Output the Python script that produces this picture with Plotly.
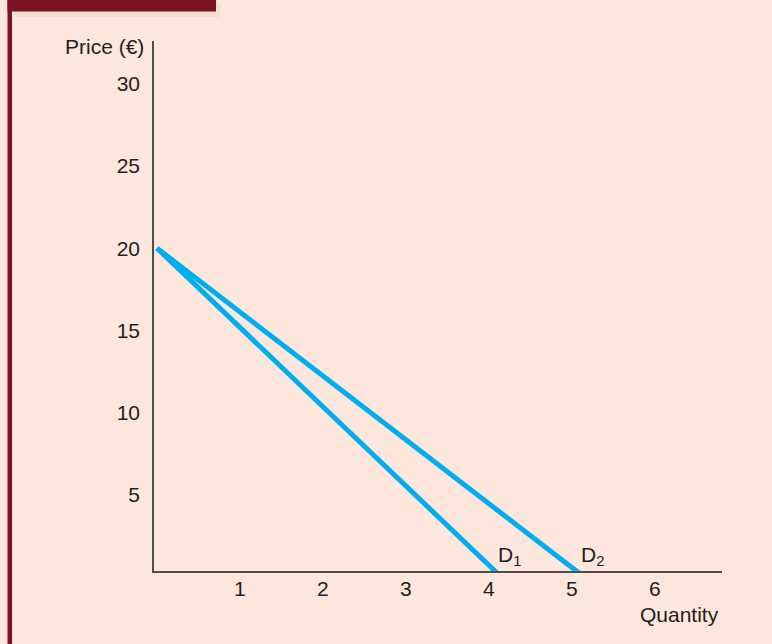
import plotly.graph_objects as go

# Data
quantity_d1 = [0, 4.15]
price_d1 = [20, 0]
quantity_d2 = [0, 5.15]
price_d2 = [20, 0]
x_ticks = [1, 2, 3, 4, 5, 6]
y_ticks = [5, 10, 15, 20, 25, 30]
curve_labels = ["D<sub>1</sub>", "D<sub>2</sub>"]

W, H = 772, 644
L, R, T, B = 154, 50, 41, 73
pw, ph = W - L - R, H - T - B

bg = "#fde6dc"
red = "#7c1322"
blue = "#00aeef"
ink = "#231f20"
font = "Liberation Sans, Arial, Helvetica, sans-serif"
FS = 21

fig = go.Figure()
fig.add_trace(go.Scatter(x=quantity_d1, y=price_d1, mode="lines",
                         line=dict(color=blue, width=5), hoverinfo="skip", showlegend=False))
fig.add_trace(go.Scatter(x=quantity_d2, y=price_d2, mode="lines",
                         line=dict(color=blue, width=5), hoverinfo="skip", showlegend=False))

def px_x(p):
    return (p - L) / pw

def px_y(p):
    return 1 - (p - T) / ph

# Curve labels at the x-intercepts
for q, lab in zip([quantity_d1[1], quantity_d2[1]], curve_labels):
    fig.add_annotation(x=q, y=0.4, xref="x", yref="y", text=lab, showarrow=False,
                       xanchor="left", yanchor="bottom", xshift=-5, yshift=0,
                       font=dict(size=FS, color=ink, family=font))

# Axis titles
fig.add_annotation(x=px_x(146), y=px_y(46), xref="paper", yref="paper", text="Price (€)",
                   showarrow=False, xanchor="right", yanchor="middle",
                   font=dict(size=FS, color=ink, family=font))
fig.add_annotation(x=px_x(721), y=px_y(614), xref="paper", yref="paper", text="Quantity",
                   showarrow=False, xanchor="right", yanchor="middle",
                   font=dict(size=FS, color=ink, family=font))

# Frame decorations: left red bar and top banner
fig.add_shape(type="rect", xref="paper", yref="paper",
              x0=px_x(7.5), x1=px_x(12), y0=px_y(H + 5), y1=px_y(0),
              fillcolor=red, line=dict(width=0), layer="above")
fig.add_shape(type="rect", xref="paper", yref="paper",
              x0=px_x(13), x1=px_x(220), y0=px_y(17), y1=px_y(4),
              fillcolor="rgba(120,60,40,0.06)", line=dict(width=0), layer="below")
fig.add_shape(type="rect", xref="paper", yref="paper",
              x0=px_x(7.5), x1=px_x(216), y0=px_y(11.5), y1=px_y(-5),
              fillcolor=red, line=dict(width=0), layer="above")
fig.add_annotation(x=px_x(33), y=px_y(7.5), xref="paper", yref="paper", text="<b>FIGURE 4.1</b>",
                   showarrow=False, xanchor="left", yanchor="bottom",
                   font=dict(size=27, color="white", family=font))

fig.update_xaxes(range=[-0.036, 6.81], tickvals=x_ticks, ticks="", showgrid=False,
                 zeroline=False, showline=True, linecolor="#4d4d4d", linewidth=1.5,
                 tickfont=dict(size=FS, color=ink, family=font), ticklabelstandoff=-2)
fig.update_yaxes(range=[0.37, 32.6], tickvals=y_ticks, ticks="", showgrid=False,
                 zeroline=False, showline=True, linecolor="#4d4d4d", linewidth=1.5,
                 tickfont=dict(size=FS, color=ink, family=font), ticklabelstandoff=8)

fig.update_layout(width=W, height=H, margin=dict(l=L, r=R, t=T, b=B),
                  paper_bgcolor=bg, plot_bgcolor=bg, showlegend=False)

fig.write_html("out.html", config={"displayModeBar": False},
               post_script="document.body.style.margin='0';document.body.style.background='%s';" % bg)
